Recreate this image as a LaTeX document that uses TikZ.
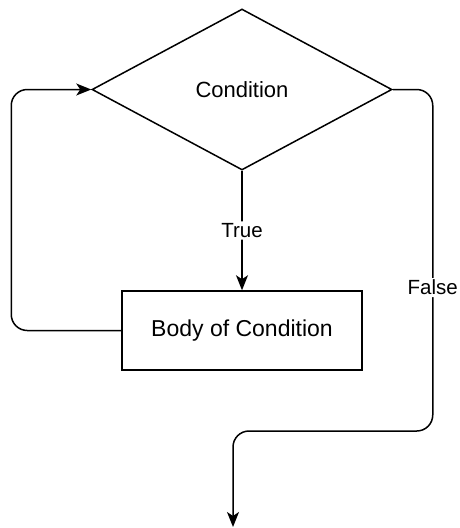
\documentclass[tikz,border=0pt]{standalone}
\usepackage{fontspec}
\setmainfont{Liberation Sans}
\usetikzlibrary{shapes.geometric,arrows.meta}
\begin{document}
\begin{tikzpicture}[x=1pt,y=-1pt,
  line width=1.5pt,
  decision/.style={draw,diamond,inner sep=0pt,minimum width=300pt,minimum height=161pt,font=\fontsize{22}{26}\selectfont},
  process/.style={draw,rectangle,inner sep=0pt,minimum width=240pt,minimum height=79pt,font=\fontsize{23}{27}\selectfont},
  edgelabel/.style={fill=white,inner sep=2pt,font=\fontsize{20.5}{24}\selectfont},
  flow/.style={-{Stealth[length=15pt,width=12pt,inset=4pt]},rounded corners=16pt}]
  \useasboundingbox (0,0) rectangle (459,528);

  \node[decision] (cond) at (242,89.5) {Condition};
  \node[process] (body) at (242,330.5) {Body of Condition};
  \coordinate (exit) at (233,527);

  % true branch into the body
  \draw[flow] (cond.south) -- node[edgelabel] {True} (body.north);

  % loop back from the body to the condition
  \draw[flow] (body.west) -- ++(-110,0) |- (cond.west);

  % false branch leaving the loop
  \draw[flow] (cond.east) -- ++(40,0)
    -- node[edgelabel,pos=0.58] {False} ++(0,341.5)
    -| (exit);
\end{tikzpicture}
\end{document}
